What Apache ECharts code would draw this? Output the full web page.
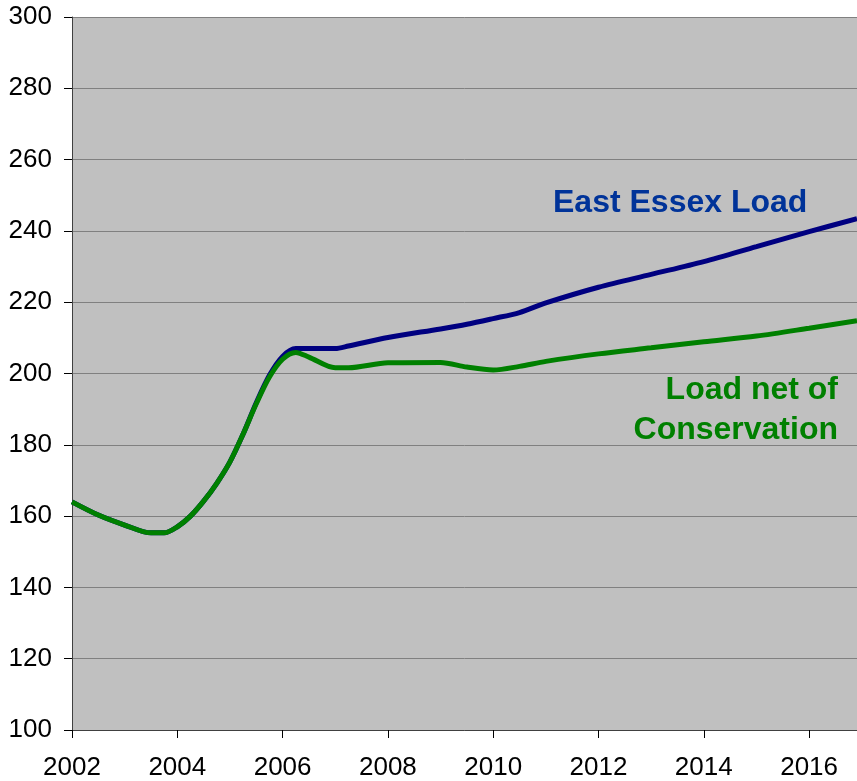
<!DOCTYPE html>
<html>
<head>
<meta charset="utf-8">
<script src="https://cdn.jsdelivr.net/npm/echarts@6/dist/echarts.min.js"></script>
<style>
html,body{margin:0;padding:0;background:#fff;}
#chart{width:857px;height:781px;}
</style>
</head>
<body>
<div id="chart"></div>
<script>
var years = [2002, 2002.5, 2003, 2003.5, 2003.75, 2004, 2004.25, 2004.5, 2004.75, 2005, 2005.25, 2005.5, 2005.75, 2006, 2006.25, 2006.5, 2007, 2007.25, 2008, 2009, 2009.5, 2010, 2010.5, 2011, 2012, 2013, 2014, 2015, 2016, 2016.91];
var eastEssexLoad = [164, 160.3, 157.5, 155.3, 155.3, 157, 160, 164.2, 169.2, 175.2, 183, 191.8, 199.5, 204.8, 207, 207, 207, 207.7, 210.1, 212.5, 213.8, 215.4, 217.1, 219.8, 224.2, 227.8, 231.4, 235.6, 239.8, 243.4];
var loadNetOfConservation = [164, 160.3, 157.5, 155.3, 155.3, 157, 160, 164.2, 169.2, 175.2, 183, 191.5, 199, 204, 205.9, 204.6, 201.6, 201.6, 203, 203.1, 201.8, 201, 202, 203.4, 205.5, 207.2, 208.9, 210.5, 212.7, 214.8];
var yTicks = {min: 100, max: 300, step: 20};
var xTicks = {min: 2002, max: 2016.91, step: 2};

function pairs(xs, ys) {
  return xs.map(function (x, i) { return [x, ys[i]]; });
}

var chart = echarts.init(document.getElementById('chart'), null, {renderer: 'canvas'});
var font = "'Liberation Sans', Arial, sans-serif";
chart.setOption({
  animation: false,
  backgroundColor: '#ffffff',
  grid: {left: 72, top: 17, right: 0, bottom: 49, show: true, backgroundColor: '#c0c0c0', borderWidth: 0},
  xAxis: {
    type: 'value', min: xTicks.min, max: xTicks.max, interval: xTicks.step,
    axisLine: {show: true, lineStyle: {color: '#404040', width: 1}},
    axisTick: {show: true, length: 8, lineStyle: {color: '#000'}},
    axisLabel: {show: true, showMaxLabel: false, margin: 25, fontSize: 26, color: '#000', fontFamily: font,
      formatter: function (v) { return String(Math.round(v)); }},
    splitLine: {show: false}
  },
  yAxis: {
    type: 'value', min: yTicks.min, max: yTicks.max, interval: yTicks.step,
    axisLine: {show: true, lineStyle: {color: '#404040', width: 1}},
    axisTick: {show: true, length: 8, lineStyle: {color: '#000'}},
    axisLabel: {show: true, margin: 20, fontSize: 26, color: '#000', fontFamily: font},
    splitLine: {show: true, lineStyle: {color: '#808080', width: 1}}
  },
  series: [
    {name: 'East Essex Load', type: 'line', data: pairs(years, eastEssexLoad), smooth: 0.3, showSymbol: false,
      lineStyle: {color: '#000080', width: 5}, itemStyle: {color: '#000080'}},
    {name: 'Load net of Conservation', type: 'line', data: pairs(years, loadNetOfConservation), smooth: 0.3, showSymbol: false,
      lineStyle: {color: '#008000', width: 5}, itemStyle: {color: '#008000'}}
  ],
  graphic: [
    {type: 'text', left: 553, top: 187, style: {text: 'East Essex Load', fill: '#003399', font: "bold 32px 'Liberation Sans', Arial, sans-serif"}},
    {type: 'text', right: 19, top: 374, style: {text: 'Load net of', fill: '#008000', font: "bold 32px 'Liberation Sans', Arial, sans-serif", textAlign: 'right'}},
    {type: 'text', right: 19, top: 414, style: {text: 'Conservation', fill: '#008000', font: "bold 32px 'Liberation Sans', Arial, sans-serif", textAlign: 'right'}}
  ]
});
</script>
</body>
</html>
